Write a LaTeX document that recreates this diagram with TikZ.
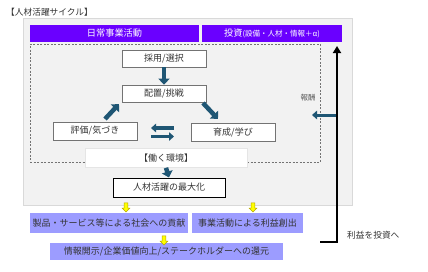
\documentclass[tikz,border=0pt]{standalone}
\usepackage{fontspec}
\setmainfont{Noto Sans CJK JP}
\usetikzlibrary{arrows.meta,shapes.arrows}
\definecolor{hdr}{HTML}{6A00FF}
\definecolor{lav}{HTML}{9C9CFF}
\definecolor{blk}{HTML}{1F5674}
\definecolor{bggray}{HTML}{F2F2F2}
\definecolor{ylw}{HTML}{FFFF00}
\definecolor{ylwd}{HTML}{B8A800}
\tikzset{
  wbox/.style={draw=black!55, fill=white, line width=0.6pt, minimum width=84pt, minimum height=17pt, inner sep=0pt, font=\fontsize{9}{10}\selectfont, text=black!80},
  hbox/.style={fill=hdr, minimum height=17pt, inner sep=0pt, text=white, font=\fontsize{9.2}{10}\selectfont},
  lbox/.style={fill=lav, minimum height=20pt, inner sep=0pt, text=black!80, font=\fontsize{9}{10}\selectfont},
  barr/.style={draw=blk, line width=4.5pt, -{Triangle[width=11pt,length=6pt]}},
  sarr/.style={draw=blk, line width=3.5pt, -{Triangle[width=8.5pt,length=5pt]}},
  yarr/.style={single arrow, draw=ylwd, fill=ylw, line width=0.5pt, inner sep=1.6pt, minimum height=9pt, single arrow head extend=2pt, shape border rotate=270},
  lbl/.style={inner sep=0pt, text=black!80}
}
\begin{document}
\begin{tikzpicture}[x=1pt,y={(0,-1pt)}]
\useasboundingbox (0,0) rectangle (428,271);
\node[lbl, anchor=west, font=\fontsize{8.7}{10}\selectfont] (title) at (6,12) {【人材活躍サイクル】};
\node[draw=black!15, fill=bggray, minimum width=329pt, minimum height=187pt, inner sep=0pt] (bg) at (187.5,111.5) {};
\node[hbox, minimum width=169pt] (hdr1) at (114.5,33.5) {日常事業活動};
\node[hbox, minimum width=140pt] (hdr2) at (272,33.5) {投資{\fontsize{7.5}{8}\selectfont (設備・人材・情報＋α)}};
\node[draw=black!55, dashed, dash pattern=on 2pt off 1.5pt, line width=0.7pt, minimum width=290pt, minimum height=118pt, inner sep=0pt] (dash) at (175,103) {};
\node[wbox] (saiyo) at (164,58.5) {採用/選択};
\node[wbox] (haichi) at (164,93.5) {配置/挑戦};
\node[wbox, minimum height=18pt] (hyouka) at (95,131) {評価/気づき};
\node[wbox, minimum height=18pt] (ikusei) at (233,132) {育成/学び};
\node[wbox, draw=black!10, minimum width=162pt, minimum height=19pt] (env) at (166,158) {【働く環境】};
\node[wbox, draw=black, line width=1pt, minimum width=112pt, minimum height=19pt] (max) at (169,187.5) {人材活躍の最大化};
\node[lbox, minimum width=158pt] (soc) at (109,223) {製品・サービス等による社会への貢献};
\node[lbox, minimum width=111pt] (profit) at (247.5,223) {事業活動による利益創出};
\node[lbox, minimum width=233pt, minimum height=17pt] (info) at (166.5,251.5) {情報開示/企業価値向上/ステークホルダーへの還元};
\node[lbl, text=black!65, font=\fontsize{7.5}{9}\selectfont] (reward) at (308,98) {報酬};
\node[lbl, anchor=west, font=\fontsize{8.7}{10}\selectfont] (invest) at (347,235) {利益を投資へ};
% blue arrows
\draw[barr] (saiyo.south) -- (haichi.north);
\coordinate (d1s) at (105,119);
\coordinate (d1e) at (119,104);
\draw[barr] (d1s) -- (d1e);
\coordinate (d2s) at (203,103);
\coordinate (d2e) at (218,119);
\draw[barr] (d2s) -- (d2e);
\coordinate (l1s) at (174,128);
\coordinate (l1e) at (151,128);
\coordinate (r1s) at (151,136.5);
\coordinate (r1e) at (174,136.5);
\draw[sarr] (l1s) -- (l1e);
\draw[sarr] (r1s) -- (r1e);
\draw[barr] (env.south) -- (max.north);
% black return line
\coordinate (bl1) at (320,242);
\coordinate (bl2) at (337,242);
\coordinate (bl3) at (337,46);
\draw[line width=2.6pt, -{Triangle[width=8pt,length=7pt]}] (bl1) -- (bl2) -- (bl3);
\coordinate (rw1) at (336,115);
\coordinate (rw2) at (312,115);
\draw[sarr, line width=3pt] (rw1) -- (rw2);
% yellow arrows
\node[yarr] (y1) at (126,206.5) {};
\node[yarr] (y2) at (253,206.5) {};
\node[yarr] (y3) at (164,239.5) {};
\end{tikzpicture}
\end{document}
